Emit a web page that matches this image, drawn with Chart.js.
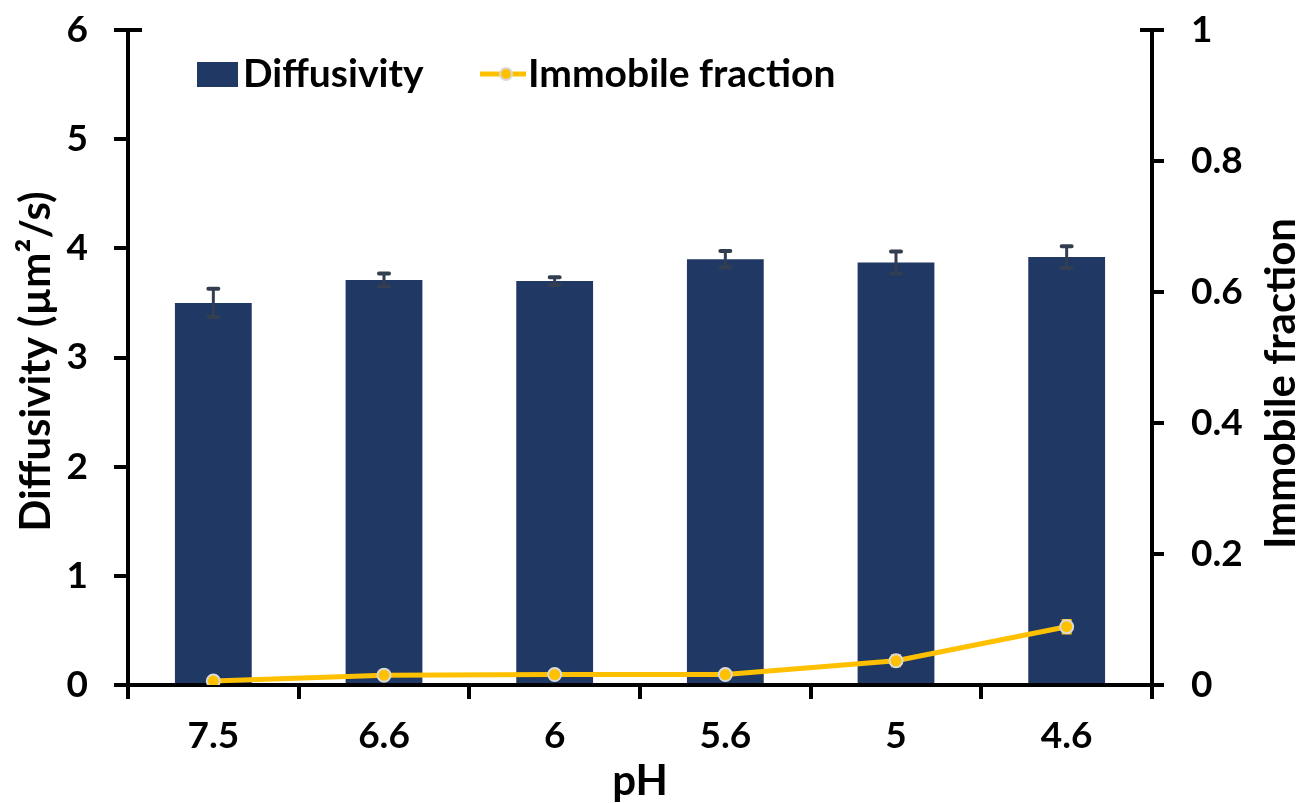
<!DOCTYPE html>
<html>
<head>
<meta charset="utf-8">
<script src="https://cdn.jsdelivr.net/npm/chart.js@4.4.1/dist/chart.umd.min.js"></script>
<style>
html,body{margin:0;padding:0;background:#fff;}
#wrap{width:1303px;height:803px;position:relative;}
</style>
</head>
<body>
<div id="wrap"><canvas id="c" width="1303" height="803"></canvas></div>
<script>
const categories = ['7.5', '6.6', '6', '5.6', '5', '4.6'];
const diffusivity = [3.50, 3.71, 3.70, 3.90, 3.87, 3.92];
const diffusivityErr = [0.13, 0.06, 0.035, 0.075, 0.10, 0.10];
const immobile = [0.006, 0.015, 0.016, 0.016, 0.037, 0.089];
const immobileErr = [0.003, 0.003, 0.003, 0.003, 0.008, 0.010];
const leftTicks = [0, 1, 2, 3, 4, 5, 6];
const rightTicks = [0, 0.2, 0.4, 0.6, 0.8, 1];

const FONT = 'Lato, "Open Sans", sans-serif';
const BAR = '#203864';
const LINE = '#FFC000';
const ERR = '#333F50';
const TICK_SIZE = 37;

const errorBars = {
  id: 'errorBars',
  beforeDatasetDraw(chart, args) {
    if (args.index !== 1) return;
    const meta = chart.getDatasetMeta(1);
    const ys = chart.scales.y1;
    const ctx = chart.ctx;
    ctx.save();
    ctx.strokeStyle = LINE; ctx.lineWidth = 2.5;
    meta.data.forEach((pt, i) => {
      const t = ys.getPixelForValue(immobile[i] + immobileErr[i]);
      const b = ys.getPixelForValue(immobile[i] - immobileErr[i]);
      ctx.beginPath();
      ctx.moveTo(pt.x, t); ctx.lineTo(pt.x, b);
      ctx.moveTo(pt.x - 5, t); ctx.lineTo(pt.x + 5, t);
      ctx.moveTo(pt.x - 5, b); ctx.lineTo(pt.x + 5, b);
      ctx.stroke();
    });
    ctx.restore();
  },
  afterDatasetDraw(chart, args) {
    if (args.index !== 0) return;
    const meta = chart.getDatasetMeta(0);
    const ys = chart.scales.y;
    const ctx = chart.ctx;
    ctx.save();
    ctx.strokeStyle = ERR; ctx.lineCap = 'round';
    meta.data.forEach((bar, i) => {
      const t = ys.getPixelForValue(diffusivity[i] + diffusivityErr[i]);
      const b = ys.getPixelForValue(diffusivity[i] - diffusivityErr[i]);
      ctx.lineWidth = 3;
      ctx.beginPath(); ctx.moveTo(bar.x, t); ctx.lineTo(bar.x, b); ctx.stroke();
      ctx.lineWidth = 4;
      ctx.beginPath();
      ctx.moveTo(bar.x - 5, t); ctx.lineTo(bar.x + 5, t);
      ctx.moveTo(bar.x - 5, b); ctx.lineTo(bar.x + 5, b);
      ctx.stroke();
    });
    ctx.restore();
  }
};

const decorations = {
  id: 'decorations',
  afterDraw(chart) {
    const ctx = chart.ctx;
    const a = chart.chartArea;
    ctx.save();
    // cross ticks at top of both axes
    ctx.strokeStyle = '#000'; ctx.lineWidth = 4;
    ctx.beginPath();
    ctx.moveTo(a.left, a.top); ctx.lineTo(a.left + 14, a.top);
    ctx.moveTo(a.right, a.top); ctx.lineTo(a.right - 12, a.top);
    ctx.stroke();
    // titles
    ctx.fillStyle = '#000';
    ctx.textAlign = 'center'; ctx.textBaseline = 'middle';
    ctx.font = 'bold 42px ' + FONT;
    ctx.save();
    ctx.translate(36, (a.top + a.bottom) / 2 + 4);
    ctx.rotate(-Math.PI / 2);
    ctx.fillText('Diffusivity (µm²/s)', 0, 0);
    ctx.restore();
    ctx.save();
    ctx.translate(1281, (a.top + a.bottom) / 2 + 26);
    ctx.rotate(-Math.PI / 2);
    ctx.fillText('Immobile fraction', 0, 0);
    ctx.restore();
    ctx.fillText('pH', (a.left + a.right) / 2, 781);
    // legend
    const ds = chart.data.datasets;
    ctx.font = 'bold 39px ' + FONT;
    ctx.textAlign = 'left';
    const ly = 74;
    ctx.fillStyle = ds[0].backgroundColor;
    ctx.fillRect(197, ly - 12, 41, 25);
    ctx.fillStyle = '#000';
    ctx.fillText(ds[0].label, 243, ly);
    ctx.strokeStyle = LINE; ctx.lineWidth = 5;
    ctx.beginPath(); ctx.moveTo(480, ly); ctx.lineTo(526, ly); ctx.stroke();
    ctx.beginPath(); ctx.arc(506, ly, 6, 0, Math.PI * 2);
    ctx.fillStyle = LINE; ctx.fill();
    ctx.lineWidth = 2; ctx.strokeStyle = '#D9D9D9'; ctx.stroke();
    ctx.fillStyle = '#000';
    ctx.fillText(ds[1].label, 528, ly);
    ctx.restore();
  }
};

new Chart(document.getElementById('c'), {
  type: 'bar',
  data: {
    labels: categories,
    datasets: [
      {
        type: 'bar', label: 'Diffusivity', data: diffusivity,
        backgroundColor: BAR, borderWidth: 0,
        categoryPercentage: 1, barPercentage: 0.45,
        yAxisID: 'y', order: 2
      },
      {
        type: 'line', label: 'Immobile fraction', data: immobile,
        borderColor: LINE, borderWidth: 5, backgroundColor: LINE,
        pointRadius: 6.5, pointBorderWidth: 2, pointBorderColor: '#D9D9D9',
        pointBackgroundColor: LINE, tension: 0,
        yAxisID: 'y1', order: 1
      }
    ]
  },
  options: {
    responsive: false,
    animation: false,
    devicePixelRatio: 1,
    layout: { padding: { top: 30, left: 0, right: 0, bottom: 0 } },
    plugins: { legend: { display: false }, tooltip: { enabled: false } },
    scales: {
      x: {
        offset: true,
        grid: { offset: true, drawOnChartArea: false, drawTicks: true, tickLength: 14, color: '#000', lineWidth: 4 },
        border: { display: true, color: '#000', width: 4 },
        ticks: { color: '#000', font: { family: FONT, size: TICK_SIZE, weight: 'bold' }, padding: 15, maxRotation: 0 },
        afterFit(s) { s.height = 118; s.paddingLeft = 0; s.paddingRight = 0; }
      },
      y: {
        position: 'left', min: 0, max: 6,
        afterBuildTicks(s) { s.ticks = leftTicks.map(v => ({ value: v })); },
        grid: { drawOnChartArea: false, drawTicks: true, tickLength: 14, color: '#000', lineWidth: 4 },
        border: { display: true, color: '#000', width: 4 },
        ticks: { color: '#000', font: { family: FONT, size: TICK_SIZE, weight: 'bold' }, padding: 26 },
        afterFit(s) { s.width = 128; s.paddingTop = 0; s.paddingBottom = 0; }
      },
      y1: {
        position: 'right', min: 0, max: 1,
        afterBuildTicks(s) { s.ticks = rightTicks.map(v => ({ value: v })); },
        grid: { drawOnChartArea: false, drawTicks: true, tickLength: 12, color: '#000', lineWidth: 4 },
        border: { display: true, color: '#000', width: 4 },
        ticks: { color: '#000', font: { family: FONT, size: TICK_SIZE, weight: 'bold' }, padding: 27,
                 callback: v => String(Math.round(v * 10) / 10) },
        afterFit(s) { s.width = 151; s.paddingTop = 0; s.paddingBottom = 0; }
      }
    }
  },
  plugins: [errorBars, decorations]
});
</script>
</body>
</html>
